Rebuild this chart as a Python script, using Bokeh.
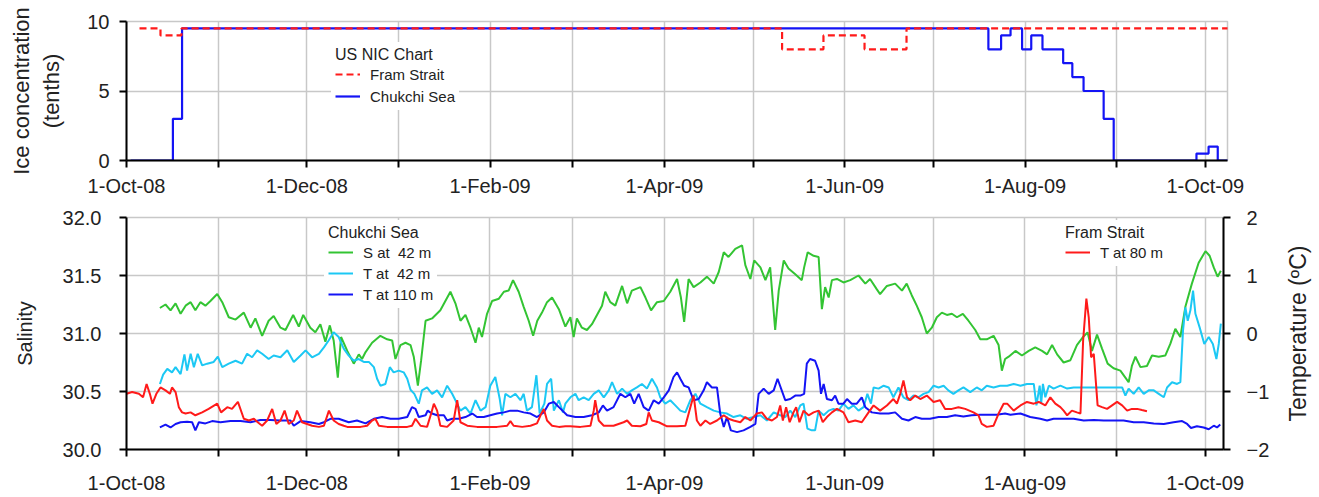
import math
import pandas as pd
from bokeh.plotting import figure
from bokeh.models import Range1d, LinearAxis, FixedTicker, Legend, LegendItem
from bokeh.core.properties import value
from bokeh.layouts import column, row
from bokeh.embed import file_html
from bokeh.resources import INLINE

FONT = "Liberation Sans"

# ---------------- axis ticks ----------------
START = pd.Timestamp("2008-10-01")
month_starts = pd.date_range("2008-10-01", "2009-10-01", freq="MS")
month_ticks = [int((d - START).days) for d in month_starts]
month_labels = ["1-Oct-08", "", "1-Dec-08", "", "1-Feb-09", "", "1-Apr-09", "",
                "1-Jun-09", "", "1-Aug-09", "", "1-Oct-09"]
ice_ticks = [0, 5, 10]
sal_ticks = [30.0, 30.5, 31.0, 31.5, 32.0]
sal_tick_labels = ["30.0", "30.5", "31.0", "31.5", "32.0"]
temp_ticks = [-2, -1, 0, 1, 2]

# ---------------- ice concentration (days since 1-Oct-08, tenths) ----------------
fram_ice_days = [4.4, 11.5, 18.6, 221.8, 235.8, 249.7, 263.9, 376.0]
fram_ice_vals = [9.5, 9.0, 9.5, 8.0, 9.0, 8.0, 9.5, 9.5]
chukchi_ice_days = [1.4, 15.7, 18.8, 291.6, 295.9, 299.1, 303.0, 306.1, 309.9, 316.9,
                    320.0, 323.8, 330.6, 334.0, 362.0, 366.1, 369.2, 372.8]
chukchi_ice_vals = [0, 3, 9.5, 8, 9, 9.5, 8, 9, 8, 7, 6, 5, 3, 0, 0.5, 1, 0, 0]

# ---------------- Chukchi Sea salinity at 42 m ----------------
sal42_days = [11.3, 13.2, 14.9, 16.6, 18.3, 20.0, 21.7, 23.3, 25.0, 26.7, 28.4, 30.7, 32.4, 34.6, 36.9,
              39.7, 42.0, 43.6, 45.9, 48.1, 49.8, 52.1, 53.8, 56.4, 58.3, 59.8, 62.2, 63.9, 65.6, 67.3,
              68.8, 70.1, 71.5, 72.6,
              74.7, 76.9, 78.6, 79.7, 80.9, 83.1, 85.9, 88.2, 89.9, 91.0, 92.7, 94.4, 96.1, 97.2, 98.6,
              99.7, 101.2, 103.4, 106.2, 107.9, 109.6, 111.3, 113.0, 114.7, 116.4, 118.1, 119.2, 120.3,
              122.0, 123.7, 126.0, 127.7, 129.3, 130.8, 132.7, 134.4, 136.1, 137.6, 139.0, 140.6, 142.3,
              144.0, 146.3,
              148.5, 150.2, 151.3, 152.4, 154.1, 155.8, 157.5, 159.2, 160.9, 162.0, 163.7, 165.4, 167.7,
              169.4, 171.0, 173.9, 175.6, 177.5, 179.5, 181.8, 184.0, 186.3, 187.6, 188.7, 190.2, 191.9,
              194.2, 196.4, 198.7, 200.4, 202.1, 203.7, 206.0, 208.3, 209.4, 211.1, 212.4, 214.5, 216.2,
              217.8, 219.5, 220.7, 222.4,
              224.0, 226.3, 228.5, 229.3, 230.5, 232.5, 234.2, 235.3, 236.4, 237.6, 238.7, 240.4, 242.6,
              244.9, 247.7, 250.0, 251.6, 253.9, 255.0, 257.3, 260.1, 262.4, 264.0, 265.7, 267.4, 269.1,
              270.8, 272.5, 274.2, 275.9, 277.6, 279.3, 281.0, 283.0, 284.9, 287.2, 288.9, 291.1, 293.4,
              295.1, 296.2, 297.3,
              298.5, 300.8, 303.0, 305.3, 307.5, 309.8, 311.5, 313.2, 314.9, 317.1, 319.4, 321.6, 323.7,
              325.2, 326.7, 328.4, 330.1, 332.0, 334.0, 336.3, 338.0, 339.1, 340.2, 341.4, 343.1, 345.3,
              347.0, 349.3, 351.5, 353.2, 354.9, 356.6, 358.3, 360.5, 362.8, 365.1, 366.5, 367.9, 369.2,
              370.3]
sal42_vals = [31.22, 31.25, 31.20, 31.26, 31.17, 31.24, 31.27, 31.20, 31.27, 31.24, 31.28, 31.34, 31.27, 31.14, 31.12,
              31.18, 31.05, 31.13, 30.98, 31.11, 31.15, 31.05, 31.03, 31.16, 31.06, 31.16, 31.05, 31.01, 31.08, 30.93,
              31.07, 30.94, 30.62, 30.97,
              30.85, 30.74, 30.82, 30.78, 30.84, 30.92, 30.98, 30.95, 30.94, 30.78, 30.90, 30.92, 30.90, 30.80, 30.55,
              30.77, 31.11, 31.13, 31.20, 31.28, 31.36, 31.26, 31.11, 31.16, 31.05, 30.92, 31.05, 30.97,
              31.17, 31.28, 31.30, 31.36, 31.37, 31.46, 31.36, 31.23, 31.11, 30.98, 31.11, 31.18, 31.27,
              31.31, 31.21,
              31.06, 31.14, 30.97, 31.13, 31.05, 31.03, 31.08, 31.16, 31.24, 31.36, 31.27, 31.24, 31.41,
              31.26, 31.37, 31.40, 31.31, 31.20, 31.27, 31.28, 31.36, 31.47, 31.31, 31.10, 31.47, 31.40,
              31.44, 31.49, 31.43, 31.53, 31.70, 31.66, 31.73, 31.76, 31.59, 31.47, 31.63, 31.57, 31.46,
              31.57, 31.03, 31.37, 31.63,
              31.56, 31.51, 31.46, 31.57, 31.70, 31.67, 31.66, 31.21, 31.40, 31.31, 31.46, 31.47, 31.44,
              31.46, 31.50, 31.43, 31.47, 31.38, 31.34, 31.41, 31.43, 31.37, 31.43, 31.33, 31.24, 31.14,
              31.00, 31.05, 31.14, 31.18, 31.16, 31.17, 31.14, 31.17, 31.11, 31.03, 30.95, 30.95, 30.98,
              30.90, 30.68, 30.78,
              30.80, 30.85, 30.81, 30.85, 30.88, 30.85, 30.82, 30.90, 30.82, 30.75, 30.77, 30.90, 30.97,
              31.01, 30.85, 30.99, 30.87, 30.74, 30.70, 30.68, 30.62, 30.58, 30.72, 30.80, 30.71, 30.72,
              30.81, 30.80, 30.81, 30.91, 31.04, 30.97, 31.23, 31.43, 31.61, 31.71, 31.67, 31.57, 31.49,
              31.54]

# ---------------- Chukchi Sea temperature at 42 m ----------------
t42_days = [11.3, 12.4, 13.8, 15.4, 16.6, 18.3, 19.6, 20.5, 21.7, 22.8, 24.1, 25.6, 27.3, 29.5, 30.9,
            32.4, 34.6, 36.9, 39.1, 40.8, 42.5, 44.2, 45.9, 48.1, 49.8, 52.1, 54.4, 56.6, 58.9, 60.6,
            62.8, 65.1, 66.8, 68.4, 70.1, 71.8,
            73.5, 75.2, 76.9, 78.6, 80.3, 82.0, 83.7, 84.8, 85.9, 87.6, 89.1, 90.4, 92.1, 93.8, 95.0,
            96.1, 97.4, 98.9, 100.0, 101.7, 103.4, 105.1, 106.8, 108.5, 110.2, 111.3, 113.0, 114.7,
            116.4, 118.1, 119.8, 121.5, 123.1, 124.8, 126.3, 127.1, 128.2, 129.9, 131.6, 133.3, 134.4,
            135.5, 137.2, 138.7, 139.8, 141.4, 142.3, 143.7, 144.6, 146.3, 147.7,
            148.5, 150.2, 151.9, 153.0, 154.7, 156.4, 158.1, 159.8, 161.5, 163.2, 164.3, 166.0, 167.7,
            169.4, 171.0, 172.7, 174.4, 176.1, 177.8, 179.5, 180.6, 182.3, 184.0, 185.7, 187.4, 189.1,
            190.8, 192.5, 194.2, 196.4, 198.7, 200.9, 203.2, 205.4, 207.7, 209.9, 212.2, 214.5, 216.7,
            219.0,
            221.2, 222.9, 224.6, 226.3, 228.0, 229.1, 230.4, 231.9, 233.0, 234.2, 235.9, 237.6, 239.2,
            240.9, 242.6, 244.3, 246.0, 247.7, 249.4, 250.7, 251.9, 252.8, 254.5, 256.2, 257.9, 259.5,
            261.2, 262.9, 264.6, 266.3, 268.0, 269.7, 271.4, 273.1, 274.8, 276.5, 278.1, 279.8, 281.5,
            283.2, 285.5, 287.7, 289.4, 291.1, 293.4, 295.6,
            298.0, 300.2, 302.5, 304.7, 307.0, 307.9, 309.0, 309.5, 310.1, 310.9, 312.1, 313.7, 316.0,
            318.3, 320.5, 323.9, 327.3, 330.7, 334.6, 336.9, 338.0, 339.1, 340.8, 342.5, 344.2, 345.9,
            347.6, 349.3, 351.0, 352.1, 353.8, 355.5, 356.6, 357.5, 358.3, 359.1, 360.0, 360.9, 361.7,
            363.1, 364.7, 366.2, 367.6, 368.8, 369.6, 370.3]
t42_vals = [-0.87, -0.71, -0.61, -0.67, -0.58, -0.70, -0.36, -0.64, -0.35, -0.58, -0.35, -0.55, -0.52, -0.49, -0.40,
            -0.58, -0.52, -0.47, -0.52, -0.35, -0.41, -0.29, -0.35, -0.44, -0.38, -0.41, -0.29, -0.49, -0.38, -0.29,
            -0.41, -0.35, -0.24, -0.12, 0.02, -0.06,
            -0.26, -0.38, -0.47, -0.44, -0.49, -0.49, -0.58, -0.78, -0.90, -0.87, -0.58, -0.67, -0.64, -0.67, -0.78,
            -0.97, -1.04, -1.21, -0.98, -0.93, -1.04, -0.98, -1.10, -0.90, -1.04, -1.15, -1.33, -1.27,
            -1.38, -1.15, -1.33, -1.27, -0.90, -0.75, -1.13, -1.41, -1.04, -1.10, -1.04, -1.15, -1.04,
            -1.33, -1.27, -0.72, -1.38, -1.21, -0.87, -0.78, -1.33, -1.15, -1.36,
            -1.21, -1.10, -1.04, -1.15, -1.10, -1.15, -1.04, -0.98, -1.10, -0.98, -0.84, -1.04, -0.95,
            -1.04, -0.98, -0.93, -0.87, -0.95, -0.78, -0.93, -1.10, -1.21, -1.15, -1.24, -1.33, -1.36,
            -1.15, -1.04, -1.21, -1.27, -1.33, -1.36, -1.38, -1.44, -1.41, -1.47, -1.44, -1.41, -1.50,
            -1.36,
            -1.41, -1.44, -1.33, -1.44, -1.24, -1.21, -1.64, -1.67, -1.67, -1.33, -1.41, -1.33, -1.30,
            -1.33, -1.21, -1.30, -1.24, -1.33, -1.27, -1.04, -1.21, -0.93, -0.95, -0.90, -0.93, -1.10,
            -0.93, -1.10, -1.15, -1.07, -1.10, -1.04, -1.01, -0.90, -0.93, -0.90, -0.98, -1.04, -0.98,
            -0.93, -1.01, -0.93, -0.98, -0.90, -0.93, -0.90,
            -0.90, -0.87, -0.90, -0.87, -0.87, -1.24, -0.90, -1.21, -0.87, -1.10, -0.90, -0.95, -0.90,
            -0.95, -0.93, -0.93, -0.93, -0.93, -0.93, -0.93, -1.07, -0.95, -1.04, -0.93, -1.04, -0.98,
            -0.98, -1.04, -1.10, -0.93, -0.84, -0.87, -0.84, 0.05, 0.45, 0.22, 0.40, 0.74, 0.34,
            0.11, -0.18, -0.06, -0.18, -0.44, -0.18, 0.17]

# ---------------- Chukchi Sea temperature at 110 m ----------------
t110_days = [11.3, 13.2, 14.9, 16.6, 18.3, 20.5, 22.2, 23.3, 24.5, 26.7, 29.0, 31.8, 35.2, 38.6, 42.0,
             45.3, 48.7, 52.1, 55.5, 56.6, 58.9, 62.2, 65.1, 66.8, 69.0, 71.8,
             75.2, 78.0, 80.9, 83.7, 86.5, 89.3, 92.1, 95.0, 96.6, 97.8, 98.9, 101.2, 101.9, 103.4,
             105.1, 107.4, 108.5, 110.2, 112.4, 114.7, 117.0, 118.6, 120.9, 123.1, 125.4, 127.7, 129.9,
             132.2, 134.4, 136.7, 138.9, 141.2, 142.9, 144.6, 146.3,
             149.1, 151.9, 154.7, 157.5, 159.8, 161.2, 162.6, 164.8, 167.1, 168.8, 170.5, 171.8, 173.3,
             175.0, 176.7, 178.4, 180.1, 181.8, 183.5, 185.1, 186.3, 187.4, 188.7, 190.2, 191.9, 193.6,
             195.3, 196.4, 198.1, 199.8, 200.9, 202.1, 203.2, 204.5, 206.6, 208.8, 211.1, 212.8, 213.9,
             215.6, 217.3, 219.0, 220.3,
             222.9, 224.6, 226.3, 228.0, 229.3, 230.2, 231.3, 233.0, 234.2, 235.0, 235.9, 237.0, 238.7,
             239.8, 240.9, 242.6, 243.8, 245.4, 247.1, 248.8, 250.0, 252.2, 255.0, 257.9, 260.1, 262.4,
             264.6, 266.9, 269.1, 271.9, 274.8, 277.6, 280.4, 283.2, 286.0, 288.9, 291.7, 294.5, 297.3,
             299.1, 302.5, 305.8, 309.2, 311.5, 313.7, 317.1, 320.5, 323.9, 327.3, 330.7, 334.0, 337.4,
             340.8, 344.2, 347.6, 351.0, 354.3, 357.2, 358.9, 360.2, 362.2, 364.5, 366.2, 367.9, 369.0,
             370.1]
t110_vals = [-1.62, -1.57, -1.62, -1.56, -1.53, -1.52, -1.53, -1.67, -1.53, -1.55, -1.51, -1.53, -1.51, -1.51, -1.53,
             -1.49, -1.49, -1.50, -1.50, -1.59, -1.51, -1.53, -1.56, -1.53, -1.47, -1.47,
             -1.53, -1.50, -1.55, -1.47, -1.44, -1.47, -1.47, -1.44, -1.27, -1.30, -1.44, -1.41, -1.33, -1.38,
             -1.41, -1.41, -1.50, -1.47, -1.47, -1.44, -1.38, -1.44, -1.44, -1.41, -1.38, -1.36, -1.33,
             -1.33, -1.36, -1.38, -1.44, -1.36, -1.21, -1.18, -1.27,
             -1.41, -1.44, -1.44, -1.41, -1.36, -1.24, -1.33, -1.27, -1.04, -1.10, -1.04, -1.21, -1.04,
             -1.27, -1.33, -1.15, -1.21, -1.10, -0.98, -0.75, -0.67, -0.78, -0.90, -0.93, -1.15, -1.13,
             -0.98, -0.84, -0.93, -0.93, -1.38, -1.61, -1.44, -1.67, -1.70, -1.67, -1.61, -1.56, -1.04,
             -0.95, -1.04, -0.98, -0.78,
             -1.15, -1.13, -1.07, -1.07, -1.04, -0.52, -0.44, -0.47, -0.64, -1.04, -0.87, -1.13, -1.15,
             -1.07, -1.21, -1.21, -1.13, -1.21, -1.21, -1.10, -1.27, -1.36, -1.38, -1.38, -1.36, -1.47,
             -1.50, -1.44, -1.47, -1.47, -1.44, -1.44, -1.41, -1.43, -1.41, -1.40, -1.40, -1.40, -1.38,
             -1.40, -1.38, -1.44, -1.47, -1.50, -1.47, -1.47, -1.47, -1.50, -1.49, -1.50, -1.50, -1.50,
             -1.53, -1.53, -1.55, -1.56, -1.53, -1.51, -1.56, -1.63, -1.60, -1.62, -1.65, -1.59, -1.62,
             -1.57]

# ---------------- Fram Strait temperature at 80 m ----------------
t80_days = [0.0, 1.9, 4.2, 5.6, 6.8, 7.9, 8.8, 10.1, 11.5, 13.2, 14.7, 15.4, 16.6, 17.7, 18.8, 20.0,
            21.7, 23.3, 25.6, 27.8, 30.7, 32.0, 34.1, 35.7, 37.7, 39.7, 41.4, 43.1, 44.4, 45.9, 47.6,
            49.3, 50.7, 52.1, 53.5, 54.9, 56.6, 57.7, 59.4, 61.1, 62.8, 65.1, 66.8, 68.5, 70.1, 71.8,
            73.5, 74.7, 76.9, 79.2, 81.4, 83.1, 84.2, 85.4, 88.2, 91.6, 95.0, 96.6, 97.8, 99.5, 101.7,
            103.1, 104.0, 105.1, 106.2, 108.5, 110.7, 111.9, 113.0, 115.3, 118.6, 122.0, 125.4, 128.8,
            129.9, 131.0, 133.9, 136.7, 138.9, 140.1, 141.2, 142.3, 144.0, 146.3,
            148.5, 150.2, 153.6, 157.0, 158.1, 158.6, 159.8, 161.5, 164.8, 168.2, 169.4, 171.0, 173.9,
            175.9, 176.7, 177.8, 180.1, 182.9, 186.3, 189.1, 190.8, 191.9, 193.0, 194.2, 195.9, 197.5,
            199.8, 202.1, 203.7, 205.4, 207.7, 209.4, 211.1, 213.3, 215.0, 216.7, 218.4, 220.1,
            221.2, 222.1, 223.2, 224.4, 225.7, 226.6, 227.7, 229.1, 230.8, 232.5, 234.2, 235.6, 237.0,
            238.7, 240.4, 242.6, 244.3, 246.6, 248.8, 251.1, 252.8, 255.0, 257.3, 259.5, 260.7, 261.8,
            262.9, 264.1, 265.2, 266.9, 268.6, 270.8, 273.1, 275.3, 277.0, 279.3, 281.5, 283.8, 286.6,
            288.3, 289.4, 291.1, 293.4, 295.1, 296.8,
            298.0, 300.2, 302.5, 304.7, 307.0, 308.7, 310.9, 312.6, 314.3, 316.0, 317.1, 318.3, 319.9,
            321.6, 322.8, 323.7, 324.8, 325.6, 326.4, 327.3, 328.6, 330.1, 331.8, 333.5, 335.2, 336.9,
            338.6, 340.2, 342.0, 343.6, 345.3]
t80_vals = [-1.04, -1.01, -1.04, -1.10, -0.87, -1.04, -1.21, -1.04, -0.93, -0.98, -1.04, -0.93, -1.01, -1.27, -1.36, -1.38,
            -1.36, -1.41, -1.36, -1.30, -1.21, -1.36, -1.27, -1.30, -1.18, -1.47, -1.50, -1.47, -1.53, -1.59, -1.50,
            -1.30, -1.56, -1.50, -1.33, -1.56, -1.50, -1.33, -1.53, -1.56, -1.59, -1.61, -1.59, -1.33, -1.50, -1.56,
            -1.59, -1.61, -1.61, -1.61, -1.59, -1.50, -1.47, -1.59, -1.61, -1.61, -1.61, -1.59, -1.47, -1.59, -1.61,
            -1.38, -1.21, -1.33, -1.59, -1.61, -1.50, -1.15, -1.53, -1.59, -1.61, -1.61, -1.61, -1.59,
            -1.51, -1.59, -1.61, -1.59, -1.55, -1.41, -1.30, -1.50, -1.59, -1.61,
            -1.60, -1.60, -1.61, -1.59, -1.33, -1.15, -1.50, -1.59, -1.59, -1.53, -1.50, -1.59, -1.60,
            -1.56, -1.36, -1.50, -1.53, -1.60, -1.60, -1.59, -1.27, -1.07, -1.50, -1.59, -1.50, -1.56,
            -1.50, -1.41, -1.47, -1.50, -1.53, -1.44, -1.50, -1.38, -1.36, -1.47, -1.50, -1.44,
            -1.24, -1.50, -1.27, -1.53, -1.36, -1.27, -1.53, -1.33, -1.41, -1.36, -1.33, -1.53, -1.44,
            -1.36, -1.30, -1.36, -1.53, -1.50, -1.53, -1.36, -1.24, -1.33, -1.24, -1.13, -1.21, -1.04,
            -0.81, -1.10, -1.15, -1.07, -1.13, -1.07, -1.18, -1.15, -1.30, -1.30, -1.27, -1.30, -1.36,
            -1.41, -1.56, -1.61, -1.59, -1.38, -1.21,
            -1.21, -1.33, -1.24, -1.18, -1.21, -1.18, -1.24, -1.10, -1.21, -1.27, -1.33, -1.41, -1.33,
            -1.36, -1.38, -0.12, 0.60, 0.28, -0.41, -0.35, -1.24, -1.27, -1.30, -1.24, -1.18, -1.24,
            -1.33, -1.30, -1.30, -1.32, -1.34]

# ---------------- colours ----------------
RED = "#FF1A1A"
BLUE = "#1414F5"
GREEN = "#33C433"
CYAN = "#1CC8F4"
GRID = "#C8C8C8"
TXT = "#222222"


def style_common(p):
    p.background_fill_color = "white"
    p.border_fill_color = "white"
    p.outline_line_color = GRID
    p.outline_line_width = 1.5
    p.grid.grid_line_color = GRID
    p.grid.grid_line_width = 1.5
    for ax in p.axis:
        ax.axis_line_color = "black"
        ax.axis_line_width = 2
        ax.major_tick_line_color = "black"
        ax.major_tick_line_width = 2
        ax.major_tick_in = 0
        ax.major_tick_out = 7
        ax.minor_tick_line_color = None
        ax.major_label_text_font = FONT
        ax.major_label_text_font_size = "20px"
        ax.major_label_text_color = TXT
        ax.axis_label_text_font = FONT
        ax.axis_label_text_font_size = "20px"
        ax.axis_label_text_font_style = "normal"
        ax.axis_label_text_color = TXT
    p.xaxis.ticker = FixedTicker(ticks=month_ticks)
    p.xaxis.major_label_overrides = {t: lab for t, lab in zip(month_ticks, month_labels)}


def style_legend(leg):
    leg.background_fill_color = "white"
    leg.background_fill_alpha = 1.0
    leg.border_line_alpha = 0
    leg.padding = 4
    leg.margin = 0
    leg.title_standoff = 0
    leg.title_text_font = FONT
    leg.title_text_font_size = "16px"
    leg.title_text_font_style = "normal"
    leg.title_text_color = TXT
    leg.label_text_font = FONT
    leg.label_text_font_size = "15px"
    leg.label_text_color = TXT
    leg.glyph_width = 25
    leg.label_standoff = 10
    leg.label_height = 20
    leg.glyph_height = 20


# ================= top panel =================
top = figure(width=1319, height=200, x_range=Range1d(0, 372.5), y_range=Range1d(0, 10),
             output_backend="svg", toolbar_location=None,
             min_border_left=126, min_border_right=92, min_border_top=21, min_border_bottom=40)
r_ice_c = top.step(chukchi_ice_days, chukchi_ice_vals, mode="after", line_color=BLUE, line_width=2.2)
r_ice_f = top.step(fram_ice_days, fram_ice_vals, mode="after", line_color=RED, line_width=2.2,
                   line_dash="7 4")
style_common(top)
top.yaxis.ticker = FixedTicker(ticks=ice_ticks)
top.yaxis.axis_label = "Ice concentration\n(tenths)"
top.yaxis.axis_label_text_font_size = "22px"
top.yaxis.major_label_standoff = 10
top.yaxis.axis_label_standoff = 20
top.xaxis.major_label_standoff = 7

leg_top = Legend(items=[LegendItem(label="Fram Strait", renderers=[r_ice_f]),
                        LegendItem(label="Chukchi Sea", renderers=[r_ice_c])],
                 title="US NIC Chart", location=(205, 50))
style_legend(leg_top)
leg_top.spacing = 2
top.add_layout(leg_top, "center")

# ================= bottom panel =================
SIDE_W = 40
bot = figure(width=1319 - SIDE_W, height=297, x_range=Range1d(0, 371.2), y_range=Range1d(30, 32),
             output_backend="svg", toolbar_location=None,
             min_border_left=126, min_border_right=96 - SIDE_W, min_border_top=17, min_border_bottom=48)
bot.extra_y_ranges = {"temp": Range1d(-2, 2)}
r_s42 = bot.line(sal42_days, sal42_vals, line_color=GREEN, line_width=2)
r_t42 = bot.line(t42_days, t42_vals, line_color=CYAN, line_width=2, y_range_name="temp")
r_t110 = bot.line(t110_days, t110_vals, line_color=BLUE, line_width=2, y_range_name="temp")
r_t80 = bot.line(t80_days, t80_vals, line_color=RED, line_width=2, y_range_name="temp")

right_axis = LinearAxis(y_range_name="temp", ticker=FixedTicker(ticks=temp_ticks))
bot.add_layout(right_axis, "right")
style_common(bot)
bot.yaxis[0].ticker = FixedTicker(ticks=sal_ticks)
bot.yaxis[0].major_label_overrides = {t: lab for t, lab in zip(sal_ticks, sal_tick_labels)}
bot.yaxis[0].axis_label = "Salinity"
bot.yaxis[0].major_label_standoff = 18
bot.yaxis[0].axis_label_standoff = 24
right_axis.major_label_standoff = 16
bot.xaxis.major_label_standoff = 15

leg_c = Legend(items=[LegendItem(label="S at  42 m", renderers=[r_s42]),
                      LegendItem(label="T at  42 m", renderers=[r_t42]),
                      LegendItem(label="T at 110 m", renderers=[r_t110])],
               title="Chukchi Sea", location=(198, 141))
style_legend(leg_c)
leg_c.spacing = 1
bot.add_layout(leg_c, "center")

leg_f = Legend(items=[LegendItem(label="T at 80 m", renderers=[r_t80])],
               title="Fram Strait", location=(935, 183))
style_legend(leg_f)
bot.add_layout(leg_f, "center")

# ---- narrow strip on the right carrying the temperature axis title (reads bottom-to-top) ----
side = figure(width=SIDE_W, height=297, x_range=Range1d(0, 1), y_range=Range1d(-2, 2),
              output_backend="svg", toolbar_location=None,
              x_axis_location=None, y_axis_location=None,
              min_border_left=0, min_border_right=0, min_border_top=17, min_border_bottom=48)
side.grid.visible = False
side.outline_line_color = None
side.background_fill_color = "white"
side.border_fill_color = "white"
side.text(x=[0.45], y=[0], text=["Temperature (ºC)"], angle=math.pi / 2,
          text_align="center", text_baseline="middle",
          text_font=value(FONT), text_font_size="23px", text_color=TXT)

layout = column(top, row(bot, side))
open("out.html", "w").write(file_html(layout, INLINE))
